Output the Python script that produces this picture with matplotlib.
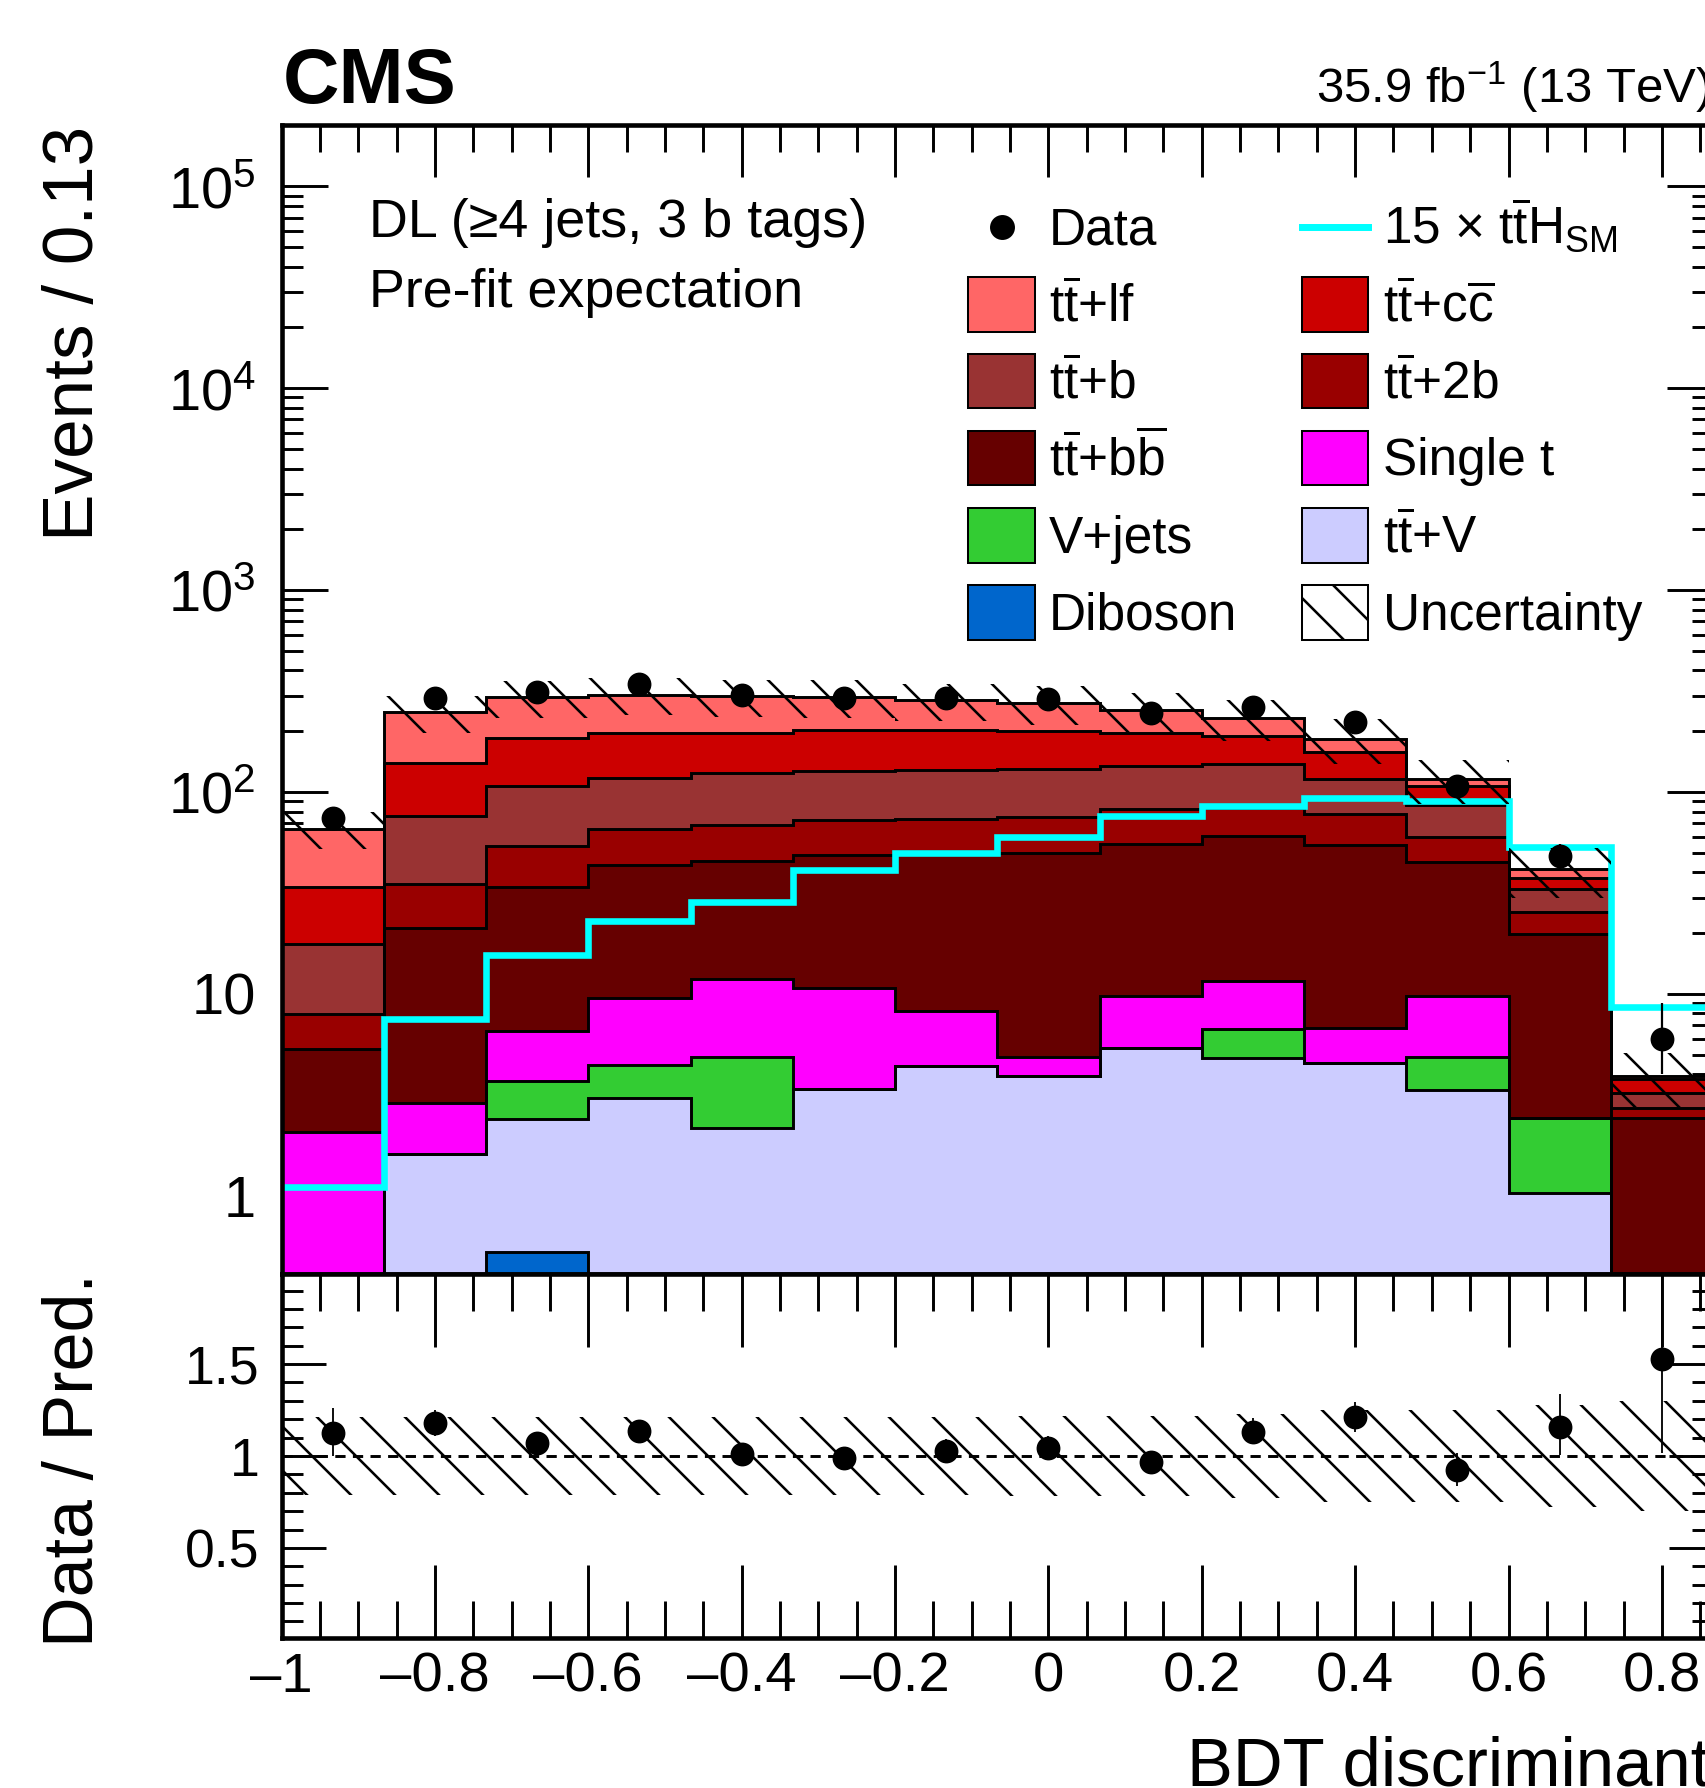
import numpy as np
import matplotlib
matplotlib.use("Agg")
import matplotlib.pyplot as plt
from matplotlib.patches import Rectangle
from matplotlib.lines import Line2D
from matplotlib.ticker import FixedLocator, FixedFormatter, MultipleLocator, LogLocator, NullFormatter

# ---------------- data ----------------
bin_edges = [-1.0, -0.86667, -0.73333, -0.6, -0.46667, -0.33333, -0.2, -0.06667,
             0.06667, 0.2, 0.33333, 0.46667, 0.6, 0.73333, 0.86667]

# stacked backgrounds, bottom to top
diboson = [0, 0, 0.525, 0, 0, 0, 0, 0, 0, 0, 0, 0, 0, 0]
ttv     = [0.25, 1.62, 1.885, 3.05, 2.17, 3.38, 4.41, 3.93, 5.40, 4.84, 4.54, 3.34, 1.035, 0.2]
vjets   = [0.05, 0, 1.31, 1.41, 2.70, 0, 0, 0, 0, 1.86, 0, 1.52, 1.405, 0.05]
singlet = [1.78, 1.26, 2.85, 5.09, 6.98, 7.32, 3.85, 0.94, 4.32, 4.9, 2.22, 4.92, 0, 0.05]
ttbb    = [3.27, 18.3, 27.1, 34.05, 33.85, 38.2, 41.64, 45.03, 45.78, 49.2, 48.14, 35.02, 17.26, 2.12]
tt2b    = [2.6, 13.8, 20.1, 22.2, 22.6, 23.4, 23.6, 25.0, 27.1, 22.2, 22.6, 15.0, 5.8, 0.31]
ttb     = [9.75, 40.7, 52.8, 51.2, 55.7, 54.2, 54.5, 55.1, 51.4, 55.0, 38.3, 26.2, 7.5, 0.49]
ttcc    = [16.0, 63.3, 78.4, 79.0, 73.0, 76.5, 75.0, 71.0, 63.0, 52.0, 41.2, 20.5, 4.6, 0.58]
ttlf    = [32.1, 108.8, 109.0, 107.0, 100.6, 92.0, 81.0, 75.0, 56.6, 43.0, 26.4, 9.3, 3.8, 0.13]

data = [74, 292, 314, 344, 301, 292, 292, 288, 245, 264, 222, 107, 48, 6]
tth15 = [1.1, 7.47, 15.5, 22.9, 28.6, 41.0, 49.8, 59.6, 76.2, 85.0, 93.0, 90.0, 53.5, 8.6]
rel_unc = [0.21, 0.21, 0.21, 0.21, 0.21, 0.21, 0.21, 0.22, 0.22, 0.23, 0.25, 0.25, 0.28, 0.30]

main_ytick_vals = [1, 10, 100, 1000, 10000, 100000]
main_ytick_labels = ["1", "10", r"$10^{2}$", r"$10^{3}$", r"$10^{4}$", r"$10^{5}$"]
ratio_ytick_vals = [0.5, 1.0, 1.5]
ratio_ytick_labels = ["0.5", "1", "1.5"]
xtick_vals = [-1.0, -0.8, -0.6, -0.4, -0.2, 0.0, 0.2, 0.4, 0.6, 0.8]
xtick_labels = ["\u20131", "\u20130.8", "\u20130.6", "\u20130.4", "\u20130.2", "0", "0.2", "0.4", "0.6", "0.8"]

TT = r"$\mathrm{t\overline{t}}$"
components = [
    ("Diboson", diboson, "#0066CC"),
    (TT + "+V", ttv, "#CCCCFF"),
    ("V+jets", vjets, "#33CC33"),
    ("Single t", singlet, "#FF00FF"),
    (TT + r"+$\mathrm{b\overline{b}}$", ttbb, "#660000"),
    (TT + "+2b", tt2b, "#990000"),
    (TT + "+b", ttb, "#993333"),
    (TT + r"+$\mathrm{c\overline{c}}$", ttcc, "#CC0000"),
    (TT + "+lf", ttlf, "#FF6666"),
]

# ---------------- style ----------------
plt.rcParams["font.family"] = ["Liberation Sans", "DejaVu Sans"]
plt.rcParams["mathtext.fontset"] = "custom"
plt.rcParams["mathtext.rm"] = "Liberation Sans"
plt.rcParams["mathtext.it"] = "Liberation Sans:italic"
plt.rcParams["mathtext.bf"] = "Liberation Sans:bold"
plt.rcParams["mathtext.default"] = "regular"
plt.rcParams["hatch.linewidth"] = 0.7
plt.rcParams["hatch.color"] = "black"

HATCH = "\\\\"

W, H, DPI = 1705, 1788, 264
fig = plt.figure(figsize=((W + 0.01) / DPI, (H + 0.01) / DPI), dpi=DPI)
fig.patch.set_facecolor("white")


def fx(px):
    return px / W


def fy(py):
    return 1.0 - py / H


LEFT, RIGHT = 281.5, 1713.0
TOP, MID, BOT = 125.5, 1274.0, 1638.0
ax = fig.add_axes([fx(LEFT), fy(MID), (RIGHT - LEFT) / W, (MID - TOP) / H])
rax = fig.add_axes([fx(LEFT), fy(BOT), (RIGHT - LEFT) / W, (BOT - MID) / H])

edges = np.array(bin_edges)
centers = 0.5 * (edges[:-1] + edges[1:])
floor = 1e-3

# ---------------- main panel ----------------
ax.set_yscale("log")
cum = np.zeros(len(data))
tops = []
for name, vals, col in components:
    low = cum.copy()
    cum = cum + np.array(vals, dtype=float)
    tops.append(cum.copy())
    ax.stairs(np.maximum(cum, floor), edges, baseline=np.maximum(low, floor), fill=True,
              facecolor=col, edgecolor="none", linewidth=0, zorder=2)
for t in tops:
    ax.stairs(np.maximum(t, floor), edges, baseline=None, color="black", linewidth=0.8, zorder=3)

total = cum
unc = np.array(rel_unc)
ax.stairs(np.array(tth15), edges, baseline=None, color="#00FFFF", linewidth=1.8, zorder=4)
ax.stairs(total * (1 + unc), edges, baseline=total * (1 - unc), fill=True, facecolor="none",
          edgecolor="black", linewidth=0, hatch=HATCH, zorder=5)

d = np.array(data, dtype=float)
err_up = 0.5 + np.sqrt(d + 0.25)
err_lo = -0.5 + np.sqrt(d + 0.25)
ax.errorbar(centers, d, yerr=[err_lo, err_up], fmt="o", color="black", ms=5.5,
            elinewidth=0.6, capsize=0, zorder=10)

ax.set_xlim(edges[0], edges[-1])
ax.set_ylim(0.41, 2.0e5)
ax.yaxis.set_major_locator(FixedLocator(main_ytick_vals))
ax.yaxis.set_major_formatter(FixedFormatter(main_ytick_labels))
ax.yaxis.set_minor_locator(LogLocator(base=10, subs=np.arange(2, 10), numticks=30))
ax.yaxis.set_minor_formatter(NullFormatter())
ax.xaxis.set_major_locator(FixedLocator(xtick_vals))
ax.xaxis.set_minor_locator(MultipleLocator(0.05))
ax.tick_params(axis="x", which="major", direction="in", length=14.2, width=0.8,
               top=True, bottom=True, labelbottom=False)
ax.tick_params(axis="x", which="minor", direction="in", length=7.4, width=0.8, top=True, bottom=True)
ax.tick_params(axis="y", which="major", direction="in", length=12.5, width=0.8,
               left=True, right=True, labelsize=15.8, pad=7.0)
ax.tick_params(axis="y", which="minor", direction="in", length=5.8, width=0.8, left=True, right=True)
for sp in ax.spines.values():
    sp.set_linewidth(1.25)
    sp.set_zorder(20)

# ---------------- ratio panel ----------------
ratio = d / total
r_up = err_up / total
r_lo = err_lo / total
rax.stairs(1 + unc, edges, baseline=1 - unc, fill=True, facecolor="none",
           edgecolor="black", linewidth=0, hatch=HATCH, zorder=3)
rax.axhline(1.0, color="black", linewidth=0.8, linestyle=(0, (3.5, 2.5)), zorder=4)
rax.errorbar(centers, ratio, yerr=[r_lo, r_up], fmt="o", color="black", ms=5.5,
             elinewidth=0.5, capsize=0, zorder=10)
rax.set_xlim(edges[0], edges[-1])
rax.set_ylim(0.01, 1.99)
rax.yaxis.set_major_locator(FixedLocator(ratio_ytick_vals))
rax.yaxis.set_major_formatter(FixedFormatter(ratio_ytick_labels))
rax.yaxis.set_minor_locator(MultipleLocator(0.1))
rax.xaxis.set_major_locator(FixedLocator(xtick_vals))
rax.xaxis.set_major_formatter(FixedFormatter(xtick_labels))
rax.xaxis.set_minor_locator(MultipleLocator(0.05))
rax.tick_params(axis="x", which="major", direction="in", length=19.9, width=0.8,
                top=True, bottom=True, labelsize=15.3, pad=3.7)
rax.tick_params(axis="x", which="minor", direction="in", length=10.1, width=0.8, top=True, bottom=True)
rax.tick_params(axis="y", which="major", direction="in", length=12.0, width=0.8,
                left=True, right=True, labelsize=14.6, pad=5.9)
rax.tick_params(axis="y", which="minor", direction="in", length=5.8, width=0.8, left=True, right=True)
for sp in rax.spines.values():
    sp.set_linewidth(1.25)
    sp.set_zorder(20)

# ---------------- texts ----------------
fig.text(fx(283), fy(102.7), "CMS", fontsize=21.3, fontweight="bold", ha="left", va="baseline")
fig.text(fx(1316), fy(103.3), r"35.9 fb$^{\mathrm{-1}}$ (13 TeV)", fontsize=13.4, ha="left", va="baseline")
fig.text(fx(93), fy(125.5), "Events / 0.13", fontsize=19.4, rotation=90,
         rotation_mode="anchor", ha="right", va="baseline")
fig.text(fx(93), fy(1273), "Data / Pred.", fontsize=19.1, rotation=90,
         rotation_mode="anchor", ha="right", va="baseline")
fig.text(fx(1187), fy(1785), "BDT discriminant", fontsize=18.8, ha="left", va="baseline")
fig.text(fx(369), fy(237.3), "DL (\u22654 jets, 3 b tags)", fontsize=14.7, ha="left", va="baseline")
fig.text(fx(369), fy(306.7), "Pre-fit expectation", fontsize=14.7, ha="left", va="baseline")

# ---------------- legend (drawn manually) ----------------
col_box = [(967.8, 1035.2), (1301.5, 1368.0)]
col_txt = [1048.7, 1383.3]
row_y = [227.0, 304.5, 381.3, 458.3, 535.5, 612.7]
box_h = 54.4
leg_fs = 14.0
comp = {c[0]: c for c in components}
legend_rows = [
    [("data", "Data"), ("line", r"15 $\times$ $\mathrm{t\overline{t}H_{SM}}$")],
    [("box", components[8][0]), ("box", components[7][0])],
    [("box", components[6][0]), ("box", components[5][0])],
    [("box", components[4][0]), ("box", components[3][0])],
    [("box", components[2][0]), ("box", components[1][0])],
    [("box", components[0][0]), ("hatch", "Uncertainty")],
]
for r, row in enumerate(legend_rows):
    yc = row_y[r]
    for c, (kind, label) in enumerate(row):
        x0, x1 = col_box[c]
        if kind == "data":
            fig.add_artist(Line2D([fx(0.5 * (x0 + x1))], [fy(yc)], marker="o", ms=5.8,
                                  color="black", linestyle="none", transform=fig.transFigure))
        elif kind == "line":
            fig.add_artist(Line2D([fx(x0), fx(x1)], [fy(yc), fy(yc)], color="#00FFFF",
                                  linewidth=1.9, transform=fig.transFigure))
        elif kind == "box":
            fig.add_artist(Rectangle((fx(x0), fy(yc + box_h / 2)), (x1 - x0) / W, box_h / H,
                                     facecolor=comp[label][2], edgecolor="black", linewidth=0.55,
                                     transform=fig.transFigure))
        else:
            fig.add_artist(Rectangle((fx(x0), fy(yc + box_h / 2)), (x1 - x0) / W, box_h / H,
                                     facecolor="white", edgecolor="black", linewidth=0.55,
                                     hatch=HATCH, transform=fig.transFigure))
        fig.text(fx(col_txt[c]), fy(yc + 17.0), label, fontsize=leg_fs, ha="left", va="baseline")

fig.savefig("out.png", dpi=DPI)
